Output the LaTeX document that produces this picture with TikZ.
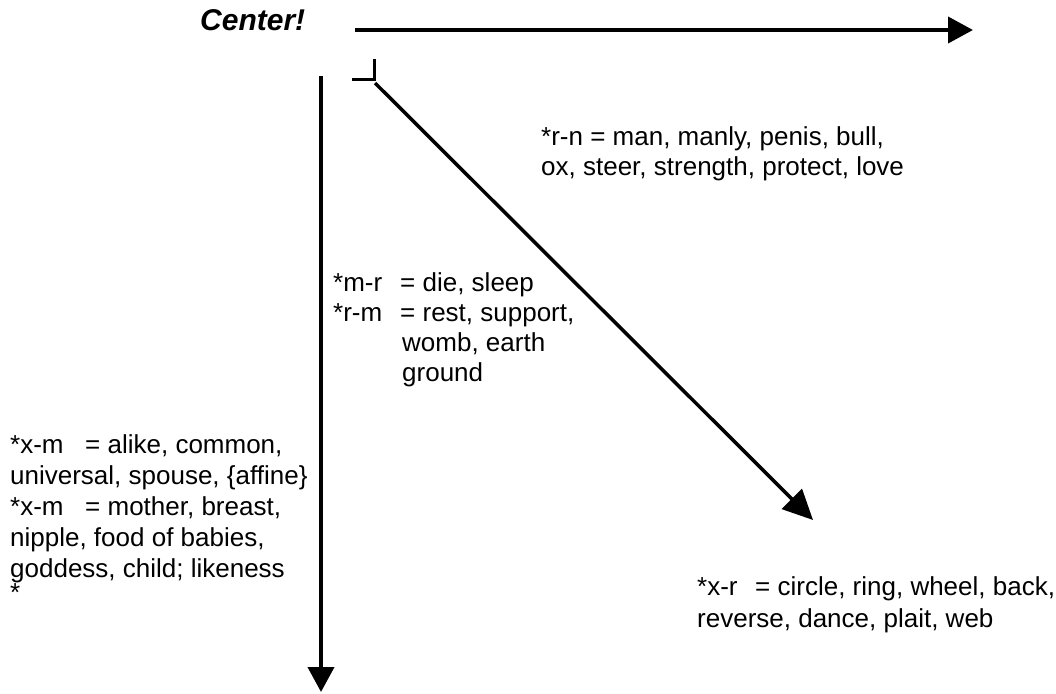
\documentclass[tikz,border=0pt]{standalone}
\usepackage{fontspec}
\setmainfont{Liberation Sans}
\usetikzlibrary{arrows.meta}

\begin{document}
\begin{tikzpicture}[x=1pt,y=-1pt,
  axis/.style={line width=4pt,-{Triangle[length=25pt,width=26pt]}},
  diag/.style={line width=3.5pt,-{Triangle[length=30pt,width=28pt]}},
  cornermark/.style={line width=3pt},
  gloss/.style={anchor=base west,inner sep=0pt,font=\fontsize{26}{30}\selectfont},
  title/.style={anchor=base west,inner sep=0pt,font=\fontsize{30}{32}\selectfont\bfseries\itshape}]
  \useasboundingbox (0,0) rectangle (1056,693);

  % end points of the three rays
  \coordinate (hstart) at (355,30);
  \coordinate (hend)   at (973,30);
  \coordinate (vstart) at (321,76);
  \coordinate (vend)   at (321,692);
  \coordinate (dstart) at (375,83);
  \coordinate (dend)   at (813,520);
  \coordinate (ca) at (352,79);
  \coordinate (cb) at (374,79);
  \coordinate (cc) at (374,59);

  \draw[axis] (hstart) -- (hend);
  \draw[axis] (vstart) -- (vend);
  \draw[diag] (dstart) -- (dend);
  \draw[cornermark] (ca) -- (cb) -- (cc);

  \node[title] (center) at (200,31) {Center!};

  % glosses along the diagonal ray
  \node[gloss] (rn1) at (541,145) {*r-n = man, manly, penis, bull,};
  \node[gloss] (rn2) at (541,175) {ox, steer, strength, protect, love};

  \node[gloss] (mr)  at (333,291) {\makebox[67pt][l]{*m-r}= die, sleep};
  \node[gloss] (rm)  at (333,321) {\makebox[67pt][l]{*r-m}= rest, support,};
  \node[gloss] (rm2) at (402,351) {womb, earth};
  \node[gloss] (rm3) at (402,381) {ground};

  % glosses beside the vertical ray
  \node[gloss] (xm1) at (10,453) {\makebox[75pt][l]{*x-m}= alike, common,};
  \node[gloss] (xm2) at (10,484) {universal, spouse, \{affine\}};
  \node[gloss] (xm3) at (10,515) {\makebox[75pt][l]{*x-m}= mother, breast,};
  \node[gloss] (xm4) at (10,546) {nipple, food of babies,};
  \node[gloss] (xm5) at (10,577) {goddess, child; likeness};
  \node[gloss] (xm6) at (10,601) {*};

  % gloss at the tip of the diagonal
  \node[gloss] (xr1) at (697,595) {\makebox[58pt][l]{*x-r}= circle, ring, wheel, back,};
  \node[gloss] (xr2) at (697,627) {reverse, dance, plait, web};
\end{tikzpicture}
\end{document}
